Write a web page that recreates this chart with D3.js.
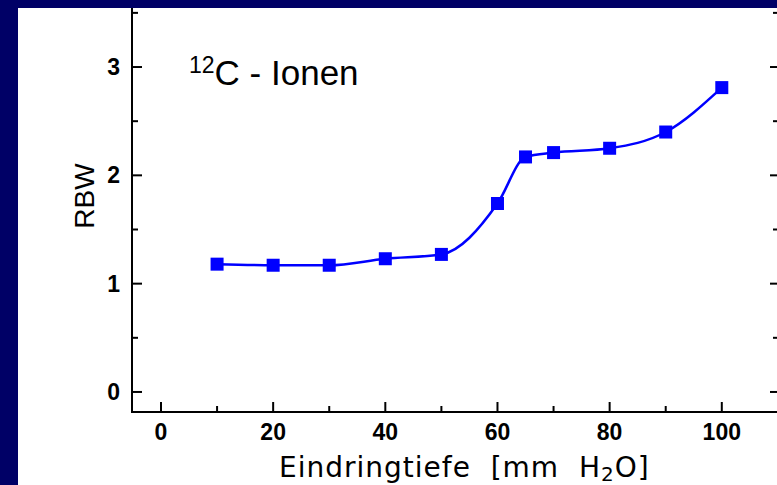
<!DOCTYPE html>
<html><head><meta charset="utf-8">
<script src="https://cdn.jsdelivr.net/npm/d3@7"></script>
<style>
html,body{margin:0;padding:0;background:#000066;}
svg{display:block;}
</style></head>
<body>
<svg id="chart" width="777" height="485"></svg>
<script>
// ---- data ----
const depth = [10, 20, 30, 40, 50, 60, 65, 70, 80, 90, 100];
const rbw   = [1.18, 1.17, 1.17, 1.23, 1.27, 1.74, 2.17, 2.21, 2.25, 2.40, 2.81];
const xMajorTicks = [0, 20, 40, 60, 80, 100];
const xMinorTicks = [10, 30, 50, 70, 90];
const yMajorTicks = [0, 1, 2, 3];
const yMinorTicks = [0.5, 1.5, 2.5, 3.5];
const titleSup = "12";
const titleMain = "C - Ionen";
const yLabel = "RBW";
const xLabelMain = "Eindringtiefe  [mm  H";
const xLabelSub = "2";
const xLabelEnd = "O]";

const svg = d3.select("#chart");
// white panel
svg.append("rect").attr("x", 18).attr("y", 8).attr("width", 777 - 18).attr("height", 485 - 8).attr("fill", "#ffffff");

const x = d3.scaleLinear().domain([-5.17, 110.2]).range([132, 779]);
const y = d3.scaleLinear().domain([-0.185, 3.545]).range([412, 8]);

const tickFont = "'Liberation Sans', Arial, sans-serif";

// left axis
const gl = svg.append("g");
gl.append("line").attr("x1", 132).attr("x2", 132).attr("y1", 8).attr("y2", 413).attr("stroke", "#000").attr("stroke-width", 2);
gl.selectAll("line.maj").data(yMajorTicks).join("line").attr("class", "maj")
  .attr("x1", 132).attr("x2", 142).attr("y1", d => y(d)).attr("y2", d => y(d)).attr("stroke", "#000").attr("stroke-width", 2);
gl.selectAll("line.min").data(yMinorTicks).join("line").attr("class", "min")
  .attr("x1", 132).attr("x2", 138).attr("y1", d => y(d)).attr("y2", d => y(d)).attr("stroke", "#000").attr("stroke-width", 2);
gl.selectAll("text").data(yMajorTicks).join("text")
  .attr("x", 120).attr("y", d => y(d) + 8).attr("text-anchor", "end")
  .attr("font-family", tickFont).attr("font-weight", "bold").attr("font-size", 23)
  .text(d => d);

// right axis ticks
const gr = svg.append("g");
gr.selectAll("line.maj").data(yMajorTicks).join("line").attr("class", "maj")
  .attr("x1", 770).attr("x2", 779).attr("y1", d => y(d)).attr("y2", d => y(d)).attr("stroke", "#000").attr("stroke-width", 2);
gr.selectAll("line.min").data(yMinorTicks).join("line").attr("class", "min")
  .attr("x1", 773).attr("x2", 779).attr("y1", d => y(d)).attr("y2", d => y(d)).attr("stroke", "#000").attr("stroke-width", 2);

// bottom axis
const gb = svg.append("g");
gb.append("line").attr("x1", 131).attr("x2", 777).attr("y1", 412).attr("y2", 412).attr("stroke", "#000").attr("stroke-width", 2);
gb.selectAll("line.maj").data(xMajorTicks).join("line").attr("class", "maj")
  .attr("x1", d => x(d)).attr("x2", d => x(d)).attr("y1", 412).attr("y2", 402).attr("stroke", "#000").attr("stroke-width", 2);
gb.selectAll("line.min").data(xMinorTicks).join("line").attr("class", "min")
  .attr("x1", d => x(d)).attr("x2", d => x(d)).attr("y1", 412).attr("y2", 406).attr("stroke", "#000").attr("stroke-width", 2);
gb.selectAll("text").data(xMajorTicks).join("text")
  .attr("x", d => x(d)).attr("y", 440).attr("text-anchor", "middle")
  .attr("font-family", tickFont).attr("font-weight", "bold").attr("font-size", 23)
  .text(d => d);

// curve
const line = d3.line().x((d, i) => x(depth[i])).y(d => y(d)).curve(d3.curveMonotoneX);
svg.append("path").attr("d", line(rbw)).attr("fill", "none").attr("stroke", "#0000ff").attr("stroke-width", 2.5);

// markers
svg.selectAll("rect.pt").data(rbw).join("rect").attr("class", "pt")
  .attr("x", (d, i) => x(depth[i]) - 6.5).attr("y", d => y(d) - 6.5)
  .attr("width", 13).attr("height", 13).attr("fill", "#0000ff");

// title
const t = svg.append("text").attr("x", 189).attr("y", 85)
  .attr("font-family", "'Liberation Sans', Arial, sans-serif").attr("font-size", 35).attr("fill", "#000");
t.append("tspan").attr("font-size", 23).attr("dy", -12).text(titleSup);
t.append("tspan").attr("dy", 12).text(titleMain);

// y label
svg.append("text").attr("transform", "translate(94,196) rotate(-90)")
  .attr("text-anchor", "middle").attr("font-family", "'Liberation Sans', Arial, sans-serif")
  .attr("font-size", 28).text(yLabel);

// x label
const xl = svg.append("text").attr("x", 279).attr("y", 477)
  .attr("font-family", "'DejaVu Sans', sans-serif").attr("font-size", 28).attr("fill", "#000")
  .attr("letter-spacing", 1).attr("xml:space", "preserve").style("white-space", "pre");
xl.append("tspan").text(xLabelMain);
xl.append("tspan").attr("font-size", 20).attr("dy", 4).text(xLabelSub);
xl.append("tspan").attr("dy", -4).text(xLabelEnd);
</script>
</body></html>
